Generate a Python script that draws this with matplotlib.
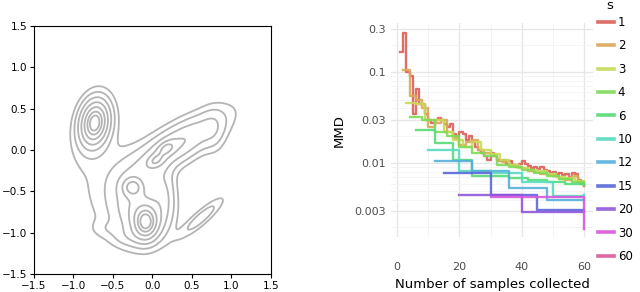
import numpy as np
import matplotlib
matplotlib.use("Agg")
import matplotlib.pyplot as plt
import seaborn as sns
from matplotlib.ticker import FixedLocator, LogLocator, NullFormatter

# ---- left panel: density built from a few gaussian bumps ----
kde_cx = [-0.73, -0.75, -0.45, -0.08, -0.10, -0.25, -0.22, 0.32, 0.18, 0.04, 0.78, -0.30, 0.62, 0.14, -0.60]
kde_cy = [0.33, 0.25, -0.50, -0.88, -0.82, -0.45, -0.60, 0.07, 0.02, -0.13, 0.22, -1.05, -0.82, -0.55, -0.95]
kde_sx = [0.11, 0.17, 0.33, 0.10, 0.20, 0.085, 0.20, 0.42, 0.08, 0.08, 0.10, 0.15, 0.23, 0.10, 0.12]
kde_sy = [0.17, 0.30, 0.42, 0.13, 0.22, 0.075, 0.26, 0.14, 0.05, 0.05, 0.17, 0.08, 0.055, 0.25, 0.07]
kde_ang = [-10, -15, 0, 0, 0, 0, 0, 30, 30, 30, 0, 0, 40, 0, 0]
kde_amp = [0.95, 0.12, 0.08, 0.75, 0.22, 0.42, 0.20, 0.40, 0.30, 0.30, 0.10, 0.08, 0.18, 0.20, 0.05]
kde_levels = [0.056, 0.12, 0.23, 0.39, 0.59, 0.79, 0.94]

# ---- right panel: MMD vs number of samples ----
s_values = [1, 2, 3, 4, 6, 10, 12, 15, 20, 30, 60]
mmd = {
    1: [0.165, 0.27, 0.10, 0.09, 0.035, 0.065, 0.045, 0.045, 0.035, 0.03,
        0.028, 0.03, 0.031, 0.03, 0.027, 0.025, 0.027, 0.021, 0.02, 0.022,
        0.021, 0.018, 0.02, 0.017, 0.015, 0.014, 0.013, 0.012, 0.011, 0.013,
        0.012, 0.011, 0.0105, 0.011, 0.0098, 0.0105, 0.0095, 0.009, 0.0098, 0.0105,
        0.0098, 0.0093, 0.0088, 0.0092, 0.0087, 0.009, 0.0084, 0.0082, 0.0078, 0.0081,
        0.0077, 0.0079, 0.0074, 0.0077, 0.0071, 0.0079, 0.0076, 0.0066, 0.006, 0.0057],
    2: [0.105, 0.055, 0.05, 0.04, 0.025, 0.028, 0.03, 0.022, 0.019, 0.016,
        0.017, 0.018, 0.014, 0.013, 0.012, 0.0105, 0.0102, 0.0095, 0.009, 0.0088,
        0.0083, 0.008, 0.0077, 0.0074, 0.0072, 0.0068, 0.0066, 0.0072, 0.0062, 0.0057],
    3: [0.046, 0.045, 0.03, 0.03, 0.022, 0.018, 0.015, 0.017, 0.014, 0.0125,
        0.011, 0.0095, 0.0088, 0.0085, 0.0082, 0.0076, 0.0071, 0.0069, 0.0064, 0.006],
    4: [0.032, 0.03, 0.022, 0.02, 0.015, 0.013, 0.012, 0.0095, 0.009, 0.0085,
        0.0078, 0.0073, 0.0068, 0.0063, 0.006],
    6: [0.023, 0.0165, 0.011, 0.0073, 0.0072, 0.0069, 0.0066, 0.0063, 0.006, 0.0058],
    10: [0.014, 0.0082, 0.0078, 0.0063, 0.0044, 0.0045],
    12: [0.0105, 0.0082, 0.0053, 0.004, 0.004],
    15: [0.0078, 0.0045, 0.0031, 0.0031],
    20: [0.0045, 0.0029, 0.0029],
    30: [0.0043, 0.0019],
    60: [0.0045],
}
y_ticks = [0.003, 0.01, 0.03, 0.1, 0.3]
y_ticklabels = ["0.003", "0.01", "0.03", "0.1", "0.3"]
x_ticks = [0, 20, 40, 60]

colors = sns.color_palette("hls", len(s_values))

fig = plt.figure(figsize=(6.4, 2.92), dpi=100)

# left
ax1 = fig.add_axes([0.053, 0.062, 0.370, 0.849])
gx, gy = np.meshgrid(np.linspace(-1.5, 1.5, 400), np.linspace(-1.5, 1.5, 400))
dens = np.zeros_like(gx)
for cx, cy, sx, sy, ang, amp in zip(kde_cx, kde_cy, kde_sx, kde_sy, kde_ang, kde_amp):
    t = np.deg2rad(ang)
    u = (gx - cx) * np.cos(t) + (gy - cy) * np.sin(t)
    v = -(gx - cx) * np.sin(t) + (gy - cy) * np.cos(t)
    dens += amp * np.exp(-0.5 * ((u / sx) ** 2 + (v / sy) ** 2))
ax1.contour(gx, gy, dens, levels=kde_levels, colors="#b4b4b4", linewidths=1.3)
ax1.set_xlim(-1.5, 1.5)
ax1.set_ylim(-1.5, 1.5)
ax1.set_xticks(np.arange(-1.5, 1.51, 0.5))
ax1.set_yticks(np.arange(-1.5, 1.51, 0.5))
ax1.tick_params(labelsize=7.5, length=3, width=0.8, pad=2)
for sp in ax1.spines.values():
    sp.set_linewidth(0.8)

# right
ax2 = fig.add_axes([0.611, 0.188, 0.316, 0.733])
for s, c in zip(s_values, colors):
    xs = np.arange(s, 61, s)
    ax2.plot(xs, mmd[s], drawstyle="steps-post", color=c, lw=1.7, alpha=0.9,
             label=str(s))
ax2.set_yscale("log")
ax2.set_xlim(-1.95, 62.95)
ax2.set_ylim(0.00155, 0.345)
ax2.yaxis.set_major_locator(FixedLocator(y_ticks))
ax2.set_yticklabels(y_ticklabels)
ax2.yaxis.set_minor_locator(LogLocator(base=10, subs=np.arange(2, 10)))
ax2.yaxis.set_minor_formatter(NullFormatter())
ax2.set_xticks(x_ticks)
ax2.set_xticks([10, 30, 50], minor=True)
ax2.grid(True, which="major", color="#e6e6e6", lw=0.9)
ax2.grid(True, which="minor", color="#f2f2f2", lw=0.6)
ax2.set_axisbelow(True)
for sp in ax2.spines.values():
    sp.set_visible(False)
ax2.tick_params(which="both", length=0, labelsize=8, labelcolor="#4d4d4d", pad=4)
ax2.tick_params(axis="x", pad=18)
ax2.set_xlabel("Number of samples collected", fontsize=9.5, labelpad=4)
ax2.set_ylabel("MMD", fontsize=9.5, labelpad=6)

leg = ax2.legend(loc="upper left", bbox_to_anchor=(0.934, 0.945),
                 bbox_transform=fig.transFigure, frameon=False, fontsize=8.5,
                 handlelength=1.4, handletextpad=0.3,
                 labelspacing=0.88, borderaxespad=0, borderpad=0)
for line in leg.get_lines():
    line.set_linewidth(2.6)
    line.set_alpha(0.9)
fig.text(0.953, 0.982, "s", fontsize=9.5, ha="center", va="center")

fig.savefig("out.png", dpi=100)
